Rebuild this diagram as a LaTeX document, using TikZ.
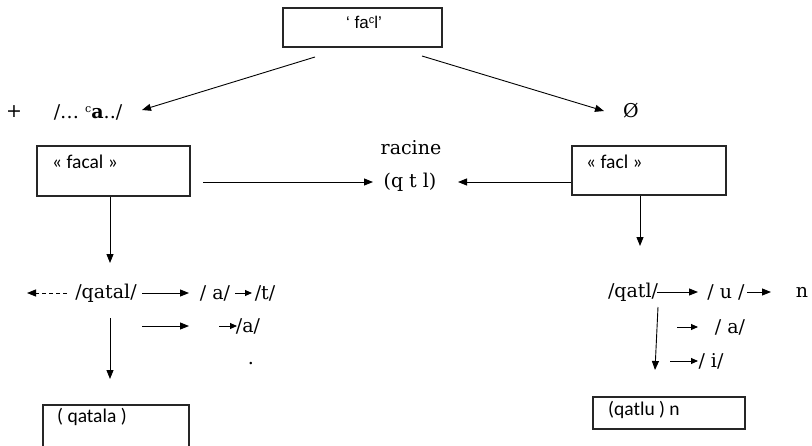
\documentclass[tikz,border=0pt]{standalone}
\usepackage{fontspec}
\setmainfont{DejaVu Serif}
\newfontfamily\boxfont{Carlito}
\newfontfamily\topfont{Liberation Sans}
\usetikzlibrary{arrows.meta}
\begin{document}
\begin{tikzpicture}[x=1pt,y=-1pt,
  box/.style={draw=black!85, line width=1.1pt, inner sep=0pt},
  arr/.style={-{Triangle[length=9pt,width=7pt]}, line width=0.9pt},
  sarr/.style={-{Triangle[length=7pt,width=6pt]}, line width=0.9pt},
  ser/.style={font=\fontsize{19}{21}\selectfont, inner sep=0pt},
  sans/.style={font=\boxfont\fontsize{19.5}{21}\selectfont, inner sep=0pt, anchor=west}]
\useasboundingbox (0,0) rectangle (812,445);

% boxes
\node[box, minimum width=159pt, minimum height=39pt] (top) at (362.5,27.5) {};
\node[box, minimum width=153pt, minimum height=50pt] (facal) at (113.5,171) {};
\node[box, minimum width=154pt, minimum height=49pt] (facl) at (649,170.5) {};
\node[box, minimum width=146pt, minimum height=55pt] (qatala) at (116,432.5) {};
\node[box, minimum width=152pt, minimum height=32pt] (qatlu) at (669,413) {};

% box texts
\node[inner sep=0pt, font=\topfont\fontsize{17}{19}\selectfont] (toptxt) at (364,22) {‘ fa\raisebox{.55ex}{\fontsize{11}{11}\selectfont c}l’};
\node[sans] (facaltxt) at (52,162) {« facal »};
\node[sans] (facltxt) at (586,162) {« facl »};
\node[sans] (qatalatxt) at (57,417) {( qatala )};
\node[sans] (qatlutxt) at (608,410) {(qatlu ) n};

% serif texts
\node[ser] (plus) at (14,112) {+};
\node[ser] (pattern) at (88,112) {/… \raisebox{.55ex}{\fontsize{11}{11}\selectfont c}\textbf{a}../};
\node[ser] (zero) at (631,111) {Ø};
\node[ser] (racine) at (411,148) {racine};
\node[ser] (qtl) at (410,182) {(q t l)};

\node[ser] (qatal) at (106,293) {/qatal/};
\node[ser] (a1) at (215,293) {/ a/};
\node[ser] (t1) at (265,293) {/t/};
\node[ser] (a2) at (248,326) {/a/};
\node[ser] (dot) at (251,364) {.};

\node[ser] (qatl) at (633,292) {/qatl/};
\node[ser] (u1) at (726,292) {/ u /};
\node[ser] (n1) at (802,292) {n};
\node[ser] (a3) at (730,327) {/ a/};
\node[ser] (i1) at (711,361) {/ i/};

% free-end coordinates
\coordinate (c1) at (315,57);
\coordinate (c2) at (142,110);
\coordinate (c3) at (422,56);
\coordinate (c4) at (604,111);
\coordinate (c5) at (203,182);
\coordinate (c5b) at (373,182);
\coordinate (c8) at (458,182);
\coordinate (c6) at (110,263);
\coordinate (c7) at (640,246);
\coordinate (d1) at (67,293);
\coordinate (d2) at (27,293);
\coordinate (e1) at (142,293);
\coordinate (e2) at (189,293);
\coordinate (e3) at (235,293);
\coordinate (e4) at (252,293);
\coordinate (f1) at (142,326);
\coordinate (f2) at (189,326);
\coordinate (f3) at (219,326);
\coordinate (f4) at (237,326);
\coordinate (g1) at (110,318);
\coordinate (g2) at (110,379);
\coordinate (h1) at (657,292);
\coordinate (h2) at (698,292);
\coordinate (h3) at (747,292);
\coordinate (h4) at (771,292);
\coordinate (k1) at (658,307);
\coordinate (k2) at (655,370);
\coordinate (m1) at (677,327);
\coordinate (m2) at (698,327);
\coordinate (p1) at (670,361);
\coordinate (p2) at (698,361);

% connectors
\draw[arr] (c1) -- (c2);
\draw[arr] (c3) -- (c4);
\draw[arr] (c5) -- (c5b);
\draw[arr] (facl.west |- qtl) -- (c8);
\draw[arr] (facal.south -| c6) -- (c6);
\draw[arr] (facl.south -| c7) -- (c7);
\draw[arr, dash pattern=on 4pt off 3pt] (d1) -- (d2);
\draw[arr] (e1) -- (e2);
\draw[sarr] (e3) -- (e4);
\draw[arr] (f1) -- (f2);
\draw[sarr] (f3) -- (f4);
\draw[arr] (g1) -- (g2);
\draw[arr] (h1) -- (h2);
\draw[arr] (h3) -- (h4);
\draw[arr] (k1) -- (k2);
\draw[sarr] (m1) -- (m2);
\draw[sarr] (p1) -- (p2);
\end{tikzpicture}
\end{document}
